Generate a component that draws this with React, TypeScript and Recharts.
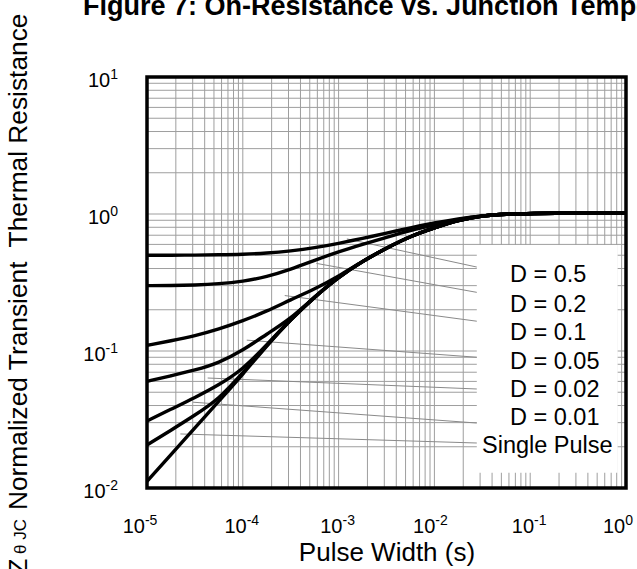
import React from 'react';
import { LineChart, Line, XAxis, YAxis, ReferenceLine, ReferenceArea } from 'recharts';

// ---- data ----
const pulseWidth = [1e-5, 1.78e-5, 3.16e-5, 5.62e-5, 1e-4, 1.78e-4, 3.16e-4, 5.62e-4, 1e-3, 1.78e-3, 3.16e-3, 5.62e-3, 1e-2, 1.78e-2, 3.16e-2, 5.62e-2, 1e-1, 3.16e-1, 1];
const zD05 = [0.5, 0.5, 0.501, 0.504, 0.508, 0.518, 0.537, 0.566, 0.61, 0.664, 0.724, 0.794, 0.861, 0.923, 0.973, 1.0, 1.009, 1.019, 1.012];
const zD02 = [0.3, 0.3, 0.303, 0.309, 0.322, 0.348, 0.394, 0.459, 0.531, 0.6, 0.676, 0.759, 0.832, 0.912, 0.973, 1.0, 1.009, 1.019, 1.012];
const zD01 = [0.11, 0.1186, 0.129, 0.1445, 0.166, 0.195, 0.237, 0.283, 0.351, 0.452, 0.565, 0.689, 0.794, 0.902, 0.973, 1.0, 1.009, 1.019, 1.012];
const zD005 = [0.06, 0.066, 0.0724, 0.0818, 0.101, 0.133, 0.172, 0.249, 0.347, 0.452, 0.565, 0.689, 0.794, 0.902, 0.973, 1.0, 1.009, 1.019, 1.012];
const zD002 = [0.0308, 0.0376, 0.0457, 0.0565, 0.0733, 0.111, 0.1706, 0.248, 0.347, 0.452, 0.565, 0.689, 0.794, 0.902, 0.973, 1.0, 1.009, 1.019, 1.012];
const zD001 = [0.0206, 0.0264, 0.034, 0.0445, 0.0692, 0.11, 0.1698, 0.248, 0.347, 0.452, 0.565, 0.689, 0.794, 0.902, 0.973, 1.0, 1.009, 1.019, 1.012];
const zSingle = [0.0112, 0.0175, 0.0275, 0.043, 0.0675, 0.1096, 0.1698, 0.248, 0.347, 0.452, 0.565, 0.689, 0.794, 0.902, 0.973, 1.0, 1.009, 1.019, 1.012];

const seriesKeys = ['d05', 'd02', 'd01', 'd005', 'd002', 'd001', 'single'];
const seriesValues = [zD05, zD02, zD01, zD005, zD002, zD001, zSingle];
const legendLabels = ['D = 0.5', 'D = 0.2', 'D = 0.1', 'D = 0.05', 'D = 0.02', 'D = 0.01', 'Single Pulse'];

// leader lines from curves to legend labels (data units)
const leaderStartX = [1.22e-3, 5.86e-4, 2.74e-4, 1.1e-4, 4.3e-5, 3.02e-5, 2.23e-5];
const leaderStartY = [0.658, 0.436, 0.254, 0.12, 0.0635, 0.0423, 0.0248];
const leaderEndY = [0.41, 0.268, 0.165, 0.09, 0.0528, 0.0298, 0.0213];
const legendBoxX = [0.0277, 0.818];
const legendBoxY = [0.0129, 0.594];

const xTicks = [1e-5, 1e-4, 1e-3, 1e-2, 1e-1, 1];
const xTickShift = [-7, -1, -1, -4, -1, -8];
const yTicks = [0.01, 0.1, 1, 10];
const xDecades = [-5, -4, -3, -2, -1];
const yDecades = [-2, -1, 0];

const title = 'Figure 7: On-Resistance vs. Junction Temperature';
const xTitle = 'Pulse Width (s)';
const yTitleMain = 'Normalized Transient  Thermal Resistance';

const FONT = '"Liberation Sans", Arial, Helvetica, sans-serif';

const rows = pulseWidth.map((x, i) => {
  const r: Record<string, number> = { x };
  seriesKeys.forEach((k, j) => {
    r[k] = seriesValues[j][i];
  });
  return r;
});

const gridX: number[] = [];
xDecades.forEach((d) => {
  for (let k = 1; k <= 9; k++) gridX.push(k * Math.pow(10, d));
});
gridX.push(1);
const gridY: number[] = [];
yDecades.forEach((d) => {
  for (let k = 1; k <= 9; k++) gridY.push(k * Math.pow(10, d));
});
gridY.push(10);

const expOf = (v: number) => String(Math.round(Math.log10(v)));

const XTick = (props: any) => {
  const { x, y, payload, index } = props;
  const shift = xTickShift[index] ?? 0;
  return (
    <text x={x + shift} y={y + 45} textAnchor="middle" fontSize={20} fontFamily={FONT} fill="#000">
      <tspan>10</tspan>
      <tspan dy={-8} fontSize={14}>{expOf(payload.value)}</tspan>
    </text>
  );
};

const YTick = (props: any) => {
  const { x, y, payload } = props;
  return (
    <text x={x - 29} y={y + 10} textAnchor="end" fontSize={20} fontFamily={FONT} fill="#000">
      <tspan>10</tspan>
      <tspan dy={-8} fontSize={14}>{expOf(payload.value)}</tspan>
    </text>
  );
};

const legendTextX = [510, 510, 510, 510, 510, 510, 482];
const legendTextY = [282, 311.5, 340, 368.5, 397, 425, 453];

export default function App() {
  return (
    <div style={{ position: 'absolute', left: 0, top: 0, width: 637, height: 569, background: '#fff', overflow: 'hidden' }}>
      <LineChart width={637} height={569} data={rows} margin={{ top: 77, right: 11, bottom: 31, left: 87 }}>
        <XAxis
          dataKey="x"
          type="number"
          scale="log"
          domain={[1e-5, 1]}
          ticks={xTicks}
          allowDataOverflow
          axisLine={false}
          tickLine={false}
          tickSize={0}
          tickMargin={0}
          height={50}
          tick={<XTick />}
          interval={0}
        />
        <YAxis
          type="number"
          scale="log"
          domain={[0.01, 10]}
          ticks={yTicks}
          allowDataOverflow
          axisLine={false}
          tickLine={false}
          tickSize={0}
          tickMargin={0}
          width={60}
          tick={<YTick />}
          interval={0}
        />
        {gridX.map((v) => (
          <ReferenceLine key={'gx' + v} x={v} stroke="#9e9e9e" strokeWidth={1} zIndex={1} ifOverflow="visible" />
        ))}
        {gridY.map((v) => (
          <ReferenceLine key={'gy' + v} y={v} stroke="#9e9e9e" strokeWidth={1} zIndex={1} ifOverflow="visible" />
        ))}
        <ReferenceArea
          x1={legendBoxX[0]}
          x2={legendBoxX[1]}
          y1={legendBoxY[0]}
          y2={legendBoxY[1]}
          fill="#ffffff"
          fillOpacity={1}
          stroke="none"
          zIndex={2}
        />
        {leaderStartX.map((sx, i) => (
          <ReferenceLine
            key={'ld' + i}
            segment={[
              { x: sx, y: leaderStartY[i] },
              { x: legendBoxX[0], y: leaderEndY[i] },
            ]}
            stroke="#8a8a8a"
            strokeWidth={1}
            zIndex={3}
            ifOverflow="visible"
          />
        ))}
        {seriesKeys.map((k) => (
          <Line
            key={k}
            dataKey={k}
            type="basis"
            stroke="#000"
            strokeWidth={3.4}
            dot={false}
            activeDot={false}
            isAnimationActive={false}
            zIndex={4}
          />
        ))}
        <ReferenceArea
          x1={1e-5}
          x2={1}
          y1={0.01}
          y2={10}
          fill="none"
          stroke="#000"
          strokeWidth={3.5}
          zIndex={5}
          ifOverflow="visible"
        />
      </LineChart>
      <svg
        width={637}
        height={569}
        style={{ position: 'absolute', left: 0, top: 0, pointerEvents: 'none', overflow: 'hidden' }}
      >
        <text x={83} y={15} fontSize={27} fontWeight="bold" fontFamily={FONT} fill="#000">
          {title}
        </text>
        <text x={387} y={561} textAnchor="middle" fontSize={26} fontFamily={FONT} fill="#000">
          {xTitle}
        </text>
        <text
          transform="translate(27,519) rotate(-90)"
          textAnchor="end"
          fontSize={26}
          fontFamily={FONT}
          fill="#000"
          style={{ whiteSpace: 'pre' }}
        >
          <tspan>Z</tspan>
          <tspan fontSize={17} dy={-1}>{' θ JC'}</tspan>
        </text>
        <text
          transform="translate(27,510) rotate(-90)"
          fontSize={26.3}
          fontFamily={FONT}
          fill="#000"
          style={{ whiteSpace: 'pre' }}
        >
          {yTitleMain}
        </text>
        {legendLabels.map((t, i) => (
          <text key={t} x={legendTextX[i]} y={legendTextY[i]} fontSize={23.5} fontFamily={FONT} fill="#000">
            {t}
          </text>
        ))}
      </svg>
    </div>
  );
}
